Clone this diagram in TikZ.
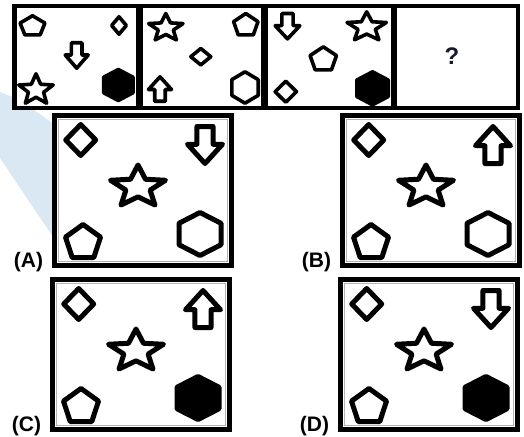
\documentclass[tikz,border=0pt]{standalone}
\usepackage{fontspec}
\setmainfont{Liberation Sans}
\definecolor{wmblue}{RGB}{218,232,243}

\tikzset{
  shp/.style={draw, fill=white, line width=5pt, line join=round},
  lbl/.style={font=\bfseries\fontsize{21}{21}\selectfont, inner sep=0pt},
  pent/.pic={\draw[shp] (0,-0.5) -- (0.5,-0.118) -- (0.309,0.5) -- (-0.309,0.5) -- (-0.5,-0.118) -- cycle;},
  diam/.pic={\draw[shp] (0,-0.5) -- (0.5,0) -- (0,0.5) -- (-0.5,0) -- cycle;},
  hex/.pic={\draw[shp,fill=#1] (0,-0.5) -- (0.5,-0.25) -- (0.5,0.25) -- (0,0.5) -- (-0.5,0.25) -- (-0.5,-0.25) -- cycle;},
  starp/.pic={\draw[shp] (0,-0.5) -- (0.136,-0.144) -- (0.5,-0.118) -- (0.22,0.128) -- (0.309,0.5)
    -- (0,0.296) -- (-0.309,0.5) -- (-0.22,0.128) -- (-0.5,-0.118) -- (-0.136,-0.144) -- cycle;},
  % pointing down; a negative yscale turns it up
  arrowp/.pic={\draw[shp] (-0.23,-0.5) -- (0.23,-0.5) -- (0.23,-0.02) -- (0.5,-0.02) -- (0,0.5)
    -- (-0.5,-0.02) -- (-0.23,-0.02) -- cycle;}
}

\begin{document}
\begin{tikzpicture}[x=1pt,y=-1pt]
  \useasboundingbox (0,0) rectangle (524,436);
  \fill[wmblue] (0,92) -- (20,100) -- (55,125) -- (55,240) -- (0,158) -- cycle;

  % question row
  \filldraw[fill=white,line width=4.5pt] (14.25,6.25) rectangle (517.75,107.75);
  \foreach \x in {139.5,264.5,394}
    \draw[line width=6.5pt] (\x,6.25) -- (\x,107.75);
  \begin{scope}[shp/.append style={line width=3.6pt}]
    \pic[xscale=24.8,yscale=19.1] at (32.5,25.3) {pent};
    \pic[xscale=14.7,yscale=17.4] at (119,25.5) {diam};
    \pic[xscale=23,yscale=25.4] at (76.7,55.5) {arrowp};
    \pic[xscale=34.4,yscale=29.4] at (36,88.5) {starp};
    \pic[xscale=29.4,yscale=31] at (118.3,85) {hex=black};

    \pic[xscale=34.4,yscale=26.4] at (165.8,26.7) {starp};
    \pic[xscale=24.4,yscale=21.4] at (245.8,24.2) {pent};
    \pic[xscale=20,yscale=16.4] at (200.8,56.7) {diam};
    \pic[xscale=23,yscale=-24.4] at (160,89) {arrowp};
    \pic[xscale=26.4,yscale=31.4] at (245,87.5) {hex=white};

    \pic[xscale=24.7,yscale=25.4] at (287.5,26.2) {arrowp};
    \pic[xscale=39.4,yscale=28] at (366.7,25.8) {starp};
    \pic[xscale=26.4,yscale=23] at (323.3,58.3) {pent};
    \pic[xscale=21.4,yscale=21] at (285.8,91.7) {diam};
    \pic[xscale=31.4,yscale=33] at (372.5,88.3) {hex=black};
  \end{scope}
  \node[font=\bfseries\fontsize{24}{24}\selectfont, text={rgb,255:red,25;green,25;blue,45}] (qm) at (452,56) {?};

  % answer options
  \foreach \lab/\bx/\by/\ay/\hc in {A/52/113/37/white, B/340/113/-37/white,
                                    C/50/277/-37/black, D/338/277/37/black}{
    \begin{scope}[shift={(\bx,\by)}]
      \filldraw[fill=white,line width=5pt] (2.5,2.5) rectangle (179.5,152);
      \draw[gray!60,line width=0.7pt] (6.5,6.5) rectangle (175.5,148);
      \pic[xscale=30,yscale=31] at (28.7,27) {diam};
      \pic[xscale=35,yscale=\ay] at (153,32) {arrowp};
      \pic[xscale=55,yscale=40] at (86,72) {starp};
      \pic[xscale=35,yscale=33] at (31,128) {pent};
      \pic[xscale=42,yscale=43] at (148,121) {hex=\hc};
      \node[lbl] (opt\lab) at (-23.5,149) {(\lab)};
    \end{scope}
  }
\end{tikzpicture}
\end{document}
